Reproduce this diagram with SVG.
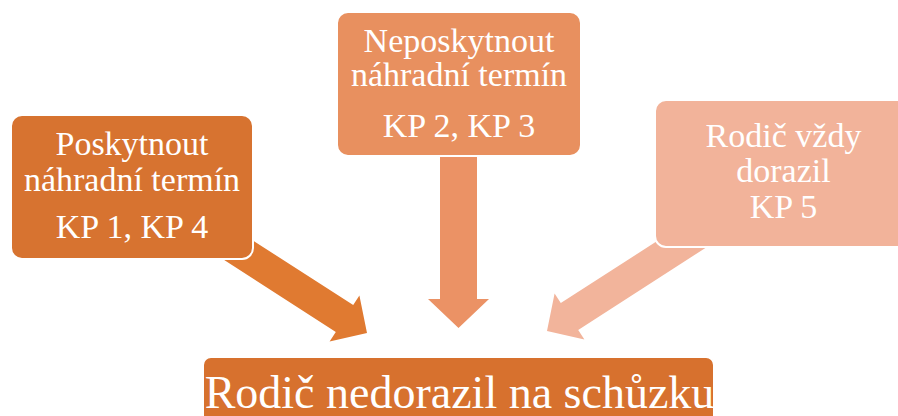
<svg xmlns="http://www.w3.org/2000/svg" width="898" height="416" viewBox="0 0 898 416">
<style>
.box{stroke:#ffffff;stroke-width:2}
.t{font-family:"Liberation Serif","Times New Roman",serif;fill:#ffffff;text-anchor:middle;font-size:34px}
.big{font-size:46px}
</style>
<rect width="898" height="416" fill="#ffffff"/>
<g id="connectors">
<polygon points="210.4,213.1 353.2,305.1 359.4,295.4 367,333 329.6,341.6 335.8,331.9 193,239.9" fill="#E07A31"/>
<polygon points="440,150 477,150 477,299 489,299 458.5,328 428,299 440,299" fill="#EB9265"/>
<polygon points="703.6,211.1 560.8,303.1 554.6,293.4 547,331 584.4,339.6 578.2,329.9 721,237.9" fill="#F2B49B"/>
</g>
<g id="node-left">
<rect class="box" x="11" y="115" width="242" height="144" rx="11" fill="#D77330"/>
<text class="t" x="132" y="155">Poskytnout</text>
<text class="t" x="132" y="191">náhradní termín</text>
<text class="t" x="132" y="238">KP 1, KP 4</text>
</g>
<g id="node-middle">
<rect class="box" x="337" y="12" width="244" height="144" rx="11" fill="#E8905F"/>
<text class="t" x="459" y="52">Neposkytnout</text>
<text class="t" x="459" y="86">náhradní termín</text>
<text class="t" x="459" y="137">KP 2, KP 3</text>
</g>
<g id="node-right">
<rect class="box" x="655" y="100" width="256" height="147" rx="11" fill="#F2B39A"/>
<text class="t" x="783.5" y="147">Rodič vždy</text>
<text class="t" x="783.5" y="182">dorazil</text>
<text class="t" x="783.5" y="218">KP 5</text>
</g>
<g id="node-bottom">
<rect class="box" x="203" y="357" width="511" height="70" rx="8" fill="#D7712E"/>
<text class="t big" x="459.5" y="408">Rodič nedorazil na schůzku</text>
</g>
</svg>
